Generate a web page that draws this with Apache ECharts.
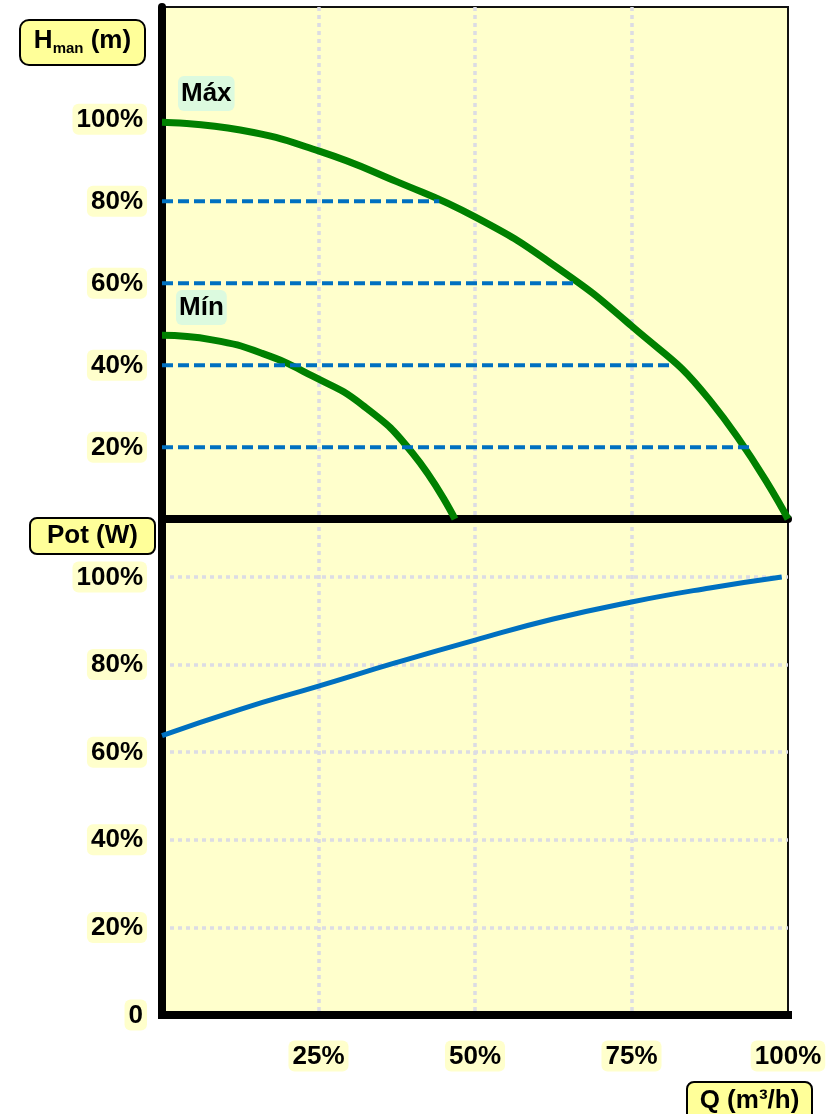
<!DOCTYPE html>
<html>
<head>
<meta charset="utf-8">
<script src="https://cdn.jsdelivr.net/npm/echarts@6/dist/echarts.min.js"></script>
<style>
html,body{margin:0;padding:0;background:#fff;}
#c{width:830px;height:1114px;}
</style>
</head>
<body>
<div id="c"></div>
<script>
// ---- data ----
const qTickValues = [25, 50, 75, 100];
const hTickValues = [20, 40, 60, 80, 100];
const potTickValues = [0, 20, 40, 60, 80, 100];

const maxQ = [0, 12.5, 25, 37.5, 50, 62.5, 75, 87.5, 100];
const maxH = [99.3, 97.4, 92.3, 84.8, 76.2, 64.5, 49.6, 31.5, 2.5];

const minQ = [0, 8, 16, 24, 32, 40, 46.8];
const minH = [47.3, 46.2, 42.9, 37.4, 30.3, 18.6, 2.5];

const refLevels = [80, 60, 40, 20];
const refEndQ = [44.3, 66.1, 81.8, 93.9];

const potQ = [0, 12.5, 25, 37.5, 50, 62.5, 75, 87.5, 99];
const potW = [63.8, 69.8, 75.1, 80.5, 85.6, 90.4, 94.3, 97.5, 100];

// ---- styles ----
const FONT = '"Liberation Sans", Arial, Helvetica, sans-serif';
const GREEN = '#008000';
const BLUE = '#0070c0';
const GRID_DOT = '#dcdce4';
const tickRich = {
  t: {
    fontFamily: FONT, fontWeight: 'bold', fontSize: 26, color: '#000',
    backgroundColor: '#ffffcc', padding: [3, 4, 2, 4], borderRadius: 6, lineHeight: 30
  }
};
const zip = (a, b) => a.map((v, i) => [v, b[i]]);

const chart = echarts.init(document.getElementById('c'), null, {renderer: 'canvas'});

const dottedSplit = {show: true, showMinLine: false, showMaxLine: false, lineStyle: {type: [4, 4], color: GRID_DOT, width: 3.5}};

const option = {
  animation: false,
  backgroundColor: '#ffffff',
  grid: [
    {left: 162, top: 7, width: 626, height: 512, show: true, backgroundColor: '#ffffcc', borderColor: '#111', borderWidth: 2},
    {left: 162, top: 519, width: 626, height: 496, show: true, backgroundColor: '#ffffcc', borderColor: '#111', borderWidth: 2}
  ],
  xAxis: [
    {
      gridIndex: 0, type: 'value', min: 0, max: 100, interval: 25,
      axisLine: {show: true, onZero: false, lineStyle: {color: '#000', width: 8}},
      axisTick: {show: false}, axisLabel: {show: false},
      splitLine: dottedSplit
    },
    {
      gridIndex: 1, type: 'value', min: 0, max: 100, interval: 25,
      axisLine: {show: true, onZero: false, lineStyle: {color: '#000', width: 8, cap: 'square'}},
      axisTick: {show: false},
      axisLabel: {
        show: true, margin: 26,
        formatter: v => qTickValues.includes(v) ? '{t|' + v + '%}' : '',
        rich: tickRich
      },
      splitLine: dottedSplit
    }
  ],
  yAxis: [
    {
      gridIndex: 0, type: 'value', min: 2.5, max: 127.4,
      axisLine: {show: true, onZero: false, lineStyle: {color: '#000', width: 8}},
      axisTick: {show: false},
      axisLabel: {
        show: true, margin: 15,
        customValues: hTickValues,
        formatter: v => hTickValues.includes(v) ? '{t|' + v + '%}' : '',
        rich: tickRich
      },
      splitLine: {show: false}
    },
    {
      gridIndex: 1, type: 'value', min: 0, max: 113.24, interval: 20,
      axisLine: {show: true, onZero: false, lineStyle: {color: '#000', width: 8}},
      axisTick: {show: false},
      axisLabel: {
        show: true, margin: 15, showMaxLabel: false,
        formatter: v => potTickValues.includes(v) ? '{t|' + (v === 0 ? '0' : v + '%') + '}' : '',
        rich: tickRich
      },
      splitLine: {show: true, showMinLine: false, showMaxLine: false, lineStyle: {type: [4, 4], color: GRID_DOT, width: 3.5}}
    }
  ],
  series: [
    {
      name: 'Máx', type: 'line', xAxisIndex: 0, yAxisIndex: 0,
      data: zip(maxQ, maxH), smooth: 0.5, showSymbol: false,
      lineStyle: {color: GREEN, width: 7}, z: 3
    },
    {
      name: 'Mín', type: 'line', xAxisIndex: 0, yAxisIndex: 0,
      data: zip(minQ, minH), smooth: 0.5, showSymbol: false,
      lineStyle: {color: GREEN, width: 7}, z: 3
    },
    ...refLevels.map((lv, i) => ({
      type: 'line', xAxisIndex: 0, yAxisIndex: 0,
      data: [[0, lv], [refEndQ[i], lv]], showSymbol: false,
      lineStyle: {color: BLUE, width: 4, type: [11, 5]}, z: 4
    })),
    {
      name: 'Pot', type: 'line', xAxisIndex: 1, yAxisIndex: 1,
      data: zip(potQ, potW), smooth: 0.5, showSymbol: false,
      lineStyle: {color: BLUE, width: 5}, z: 3
    }
  ],
  graphic: [
    {
      type: 'group', children: [
        {type: 'rect', shape: {x: 20, y: 20, width: 125, height: 45, r: 9}, style: {fill: '#ffff99', stroke: '#000', lineWidth: 2}},
        {type: 'text', x: 82.5, y: 41, style: {
          text: '{h|H}{s|man}{h| (m)}', align: 'center', verticalAlign: 'middle',
          textAlign: 'center', textVerticalAlign: 'middle',
          rich: {
            h: {fontFamily: FONT, fontWeight: 'bold', fontSize: 26, lineHeight: 30, fill: '#000', color: '#000'},
            s: {fontFamily: FONT, fontWeight: 'bold', fontSize: 15, lineHeight: 12, verticalAlign: 'bottom', fill: '#000', color: '#000'}
          }
        }}
      ]
    },
    {
      type: 'group', children: [
        {type: 'rect', shape: {x: 30, y: 518, width: 125, height: 36, r: 7}, style: {fill: '#ffff99', stroke: '#000', lineWidth: 2}},
        {type: 'text', x: 92.5, y: 536, style: {
          text: 'Pot (W)', font: 'bold 26px ' + FONT, fill: '#000',
          align: 'center', verticalAlign: 'middle', textAlign: 'center', textVerticalAlign: 'middle'
        }}
      ]
    },
    {
      type: 'group', children: [
        {type: 'rect', shape: {x: 687, y: 1082, width: 125, height: 40, r: 7}, style: {fill: '#ffff99', stroke: '#000', lineWidth: 2}},
        {type: 'text', x: 749.5, y: 1101, style: {
          text: 'Q (m³/h)', font: 'bold 26px ' + FONT, fill: '#000',
          align: 'center', verticalAlign: 'middle', textAlign: 'center', textVerticalAlign: 'middle'
        }}
      ]
    },
    {
      type: 'text', x: 178, y: 76, z: 10, style: {
        text: 'Máx', font: 'bold 26px ' + FONT, fill: '#000',
        backgroundColor: '#dcfadf', padding: [3, 3, 3, 3], borderRadius: 6, lineHeight: 29,
        align: 'left', verticalAlign: 'top'
      }
    },
    {
      type: 'text', x: 176, y: 290, z: 10, style: {
        text: 'Mín', font: 'bold 26px ' + FONT, fill: '#000',
        backgroundColor: '#dcfadf', padding: [3, 3, 3, 3], borderRadius: 6, lineHeight: 29,
        align: 'left', verticalAlign: 'top'
      }
    }
  ]
};
chart.setOption(option);
</script>
</body>
</html>
